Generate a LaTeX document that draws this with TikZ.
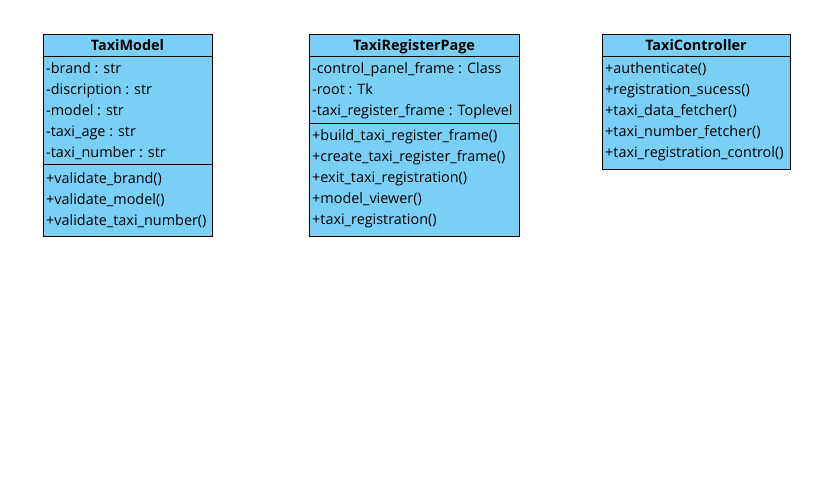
\documentclass[tikz,border=0pt]{standalone}
\usepackage{fontspec}
\setmainfont{Open Sans}
\definecolor{classblue}{RGB}{122,207,245}
\tikzset{
	classbox/.style={draw=black, fill=classblue, line width=1pt},
	classname/.style={anchor=base, inner sep=0pt, font=\fontsize{14.4}{16}\selectfont\bfseries},
	member/.style={anchor=base west, inner sep=0pt, font=\fontsize{14.4}{16}\selectfont},
}
\begin{document}
\begin{tikzpicture}[x=1pt,y=-1pt]
				\useasboundingbox (0,0) rectangle (835,498);
				
				% TaxiModel
				\draw[classbox] (43,34) rectangle (212,236);
				\draw[line width=1pt] (43,56) -- (212,56);
				\draw[line width=1pt] (43,164) -- (212,164);
				\node[classname] (modelname) at (127.5,50) {TaxiModel};
				\node[member] (modelbrand) at (46,73) {-brand : str};
				\node[member] (modeldisc) at (46,94) {-discription : str};
				\node[member] (modelmodel) at (46,115) {-model : str};
				\node[member] (modelage) at (46,136) {-taxi\_age : str};
				\node[member] (modelnumber) at (46,157) {-taxi\_number : str};
				\node[member] (modelvbrand) at (46,183) {+validate\_brand()};
				\node[member] (modelvmodel) at (46,204) {+validate\_model()};
				\node[member] (modelvnumber) at (46,225) {+validate\_taxi\_number()};
				
				% TaxiRegisterPage
				\draw[classbox] (309,34) rectangle (519,236);
				\draw[line width=1pt] (309,56) -- (519,56);
				\draw[line width=1pt] (309,123) -- (519,123);
				\node[classname] (pagename) at (414,50) {TaxiRegisterPage};
				\node[member] (pagepanel) at (312,73) {-control\_panel\_frame : Class};
				\node[member] (pageroot) at (312,94) {-root : Tk};
				\node[member] (pageframe) at (312,115) {-taxi\_register\_frame : Toplevel};
				\node[member] (pagebuild) at (312,140) {+build\_taxi\_register\_frame()};
				\node[member] (pagecreate) at (312,161) {+create\_taxi\_register\_frame()};
				\node[member] (pageexit) at (312,182) {+exit\_taxi\_registration()};
				\node[member] (pageviewer) at (312,203) {+model\_viewer()};
				\node[member] (pagereg) at (312,224) {+taxi\_registration()};
				
				% TaxiController
				\draw[classbox] (602,34) rectangle (790,169);
				\draw[line width=1pt] (602,56) -- (790,56);
				\node[classname] (ctrlname) at (696,50) {TaxiController};
				\node[member] (ctrlauth) at (605,73) {+authenticate()};
				\node[member] (ctrlsuccess) at (605,94) {+registration\_sucess()};
				\node[member] (ctrldata) at (605,115) {+taxi\_data\_fetcher()};
				\node[member] (ctrlnumber) at (605,136) {+taxi\_number\_fetcher()};
				\node[member] (ctrlcontrol) at (605,157) {+taxi\_registration\_control()};
			\end{tikzpicture}
\end{document}
